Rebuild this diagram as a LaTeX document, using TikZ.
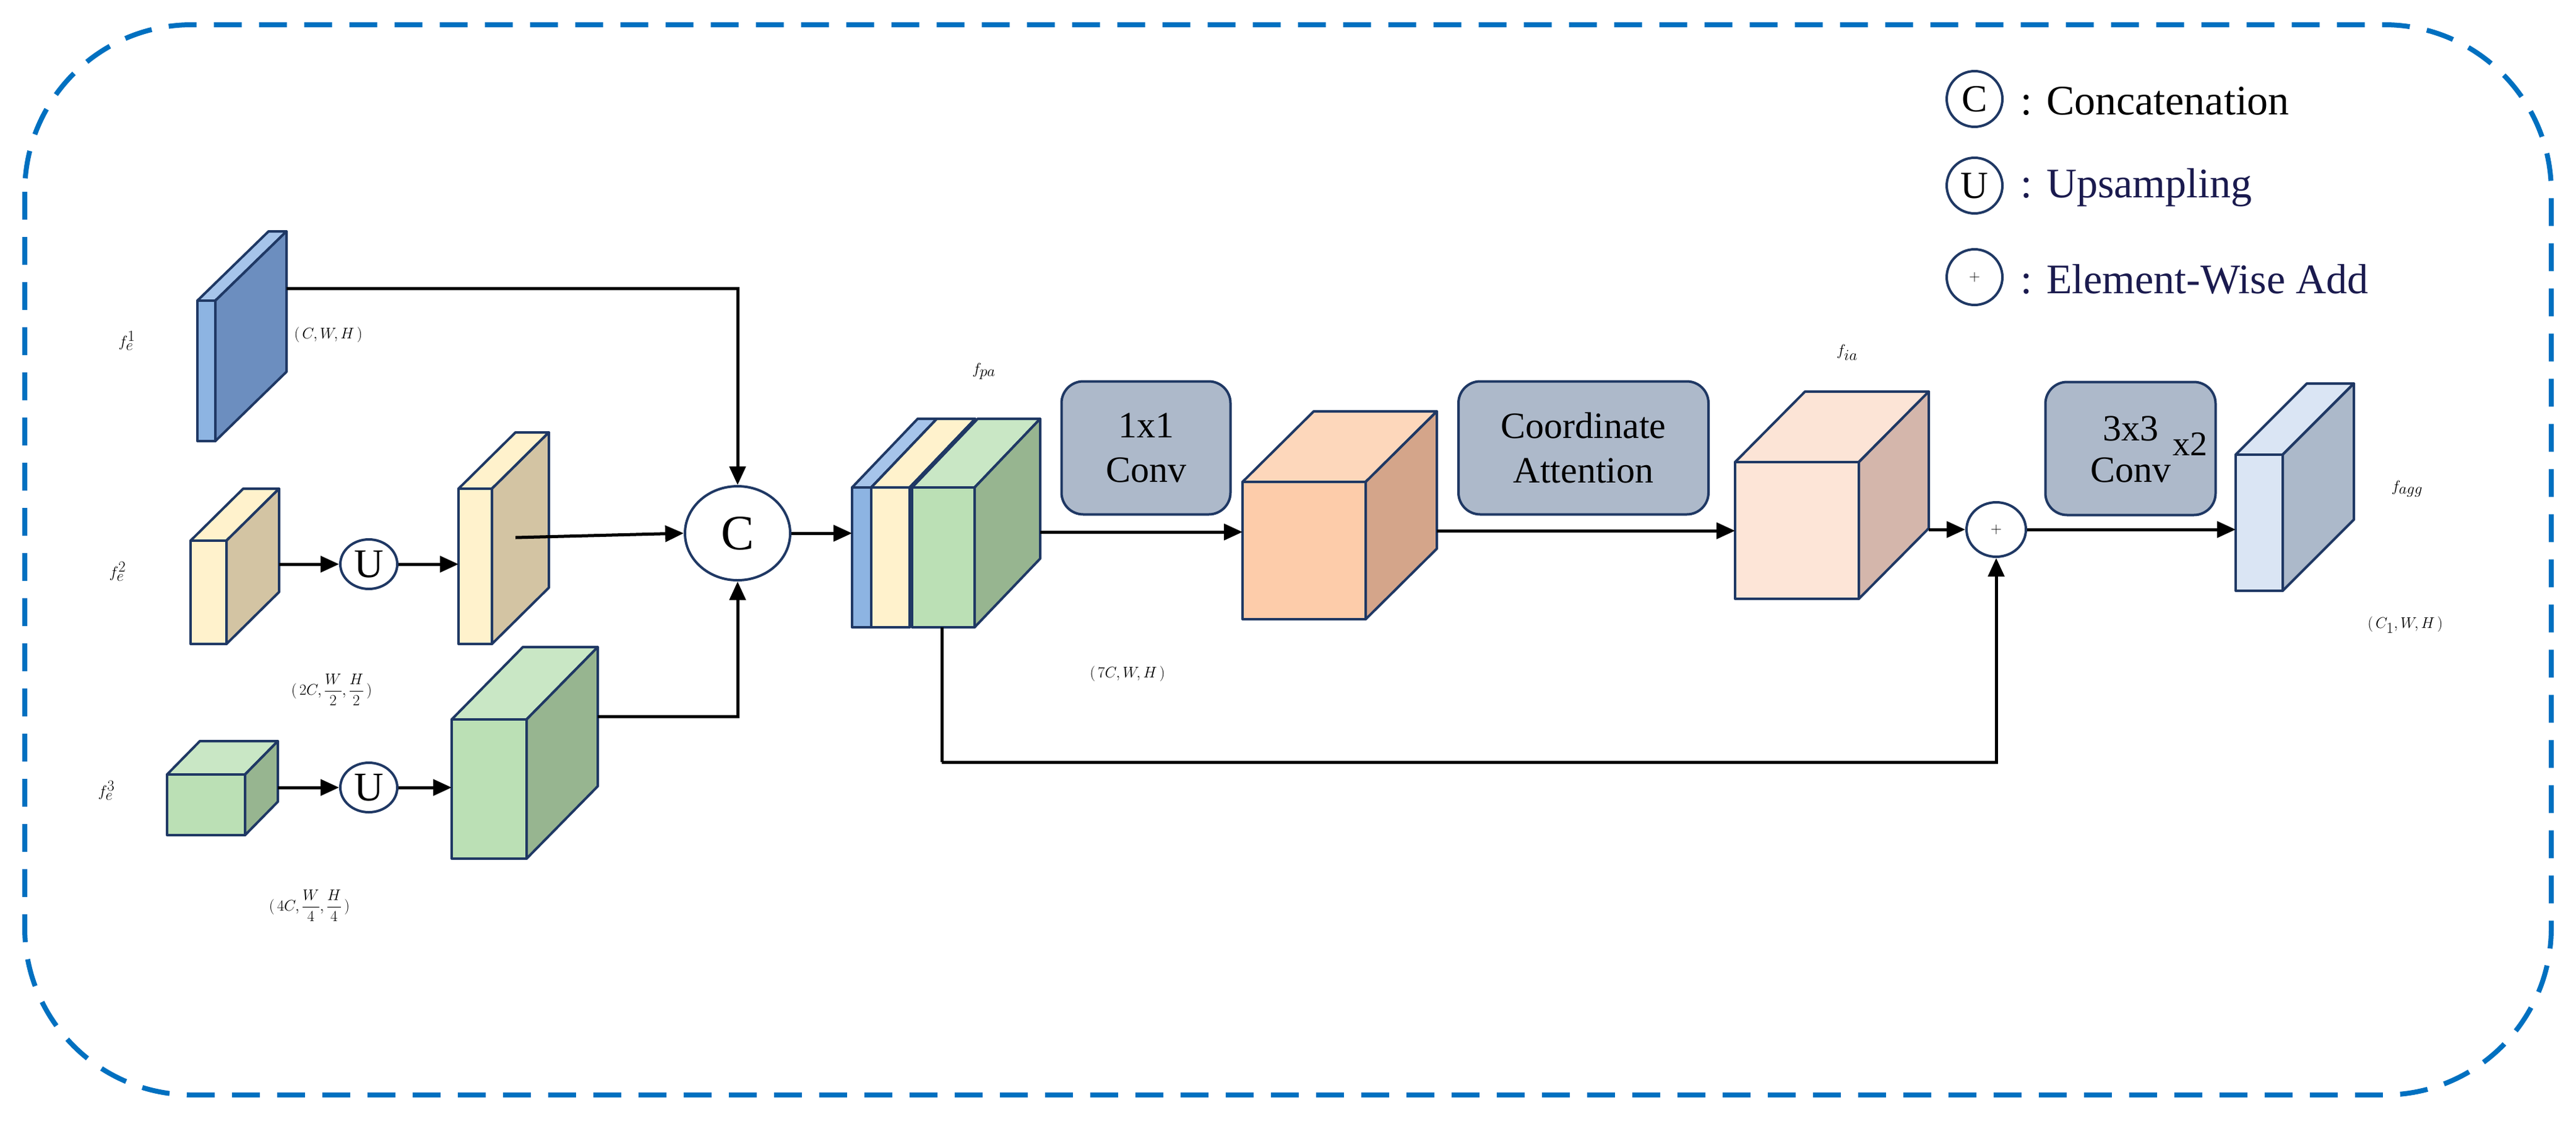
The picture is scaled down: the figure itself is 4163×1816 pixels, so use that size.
\documentclass[tikz,border=0pt]{standalone}
\usepackage{amsmath}
\usepackage{fontspec}
\setmainfont{Liberation Serif}
\usetikzlibrary{arrows.meta,shapes.geometric}
\definecolor{navy}{HTML}{1F3864}
\definecolor{dblue}{RGB}{0,112,192}
\definecolor{boxc}{HTML}{ADB9CA}
\definecolor{legtxt}{HTML}{1A1A4E}
\definecolor{bF}{HTML}{8DB4E2}\definecolor{bT}{HTML}{A6C4EA}\definecolor{bS}{HTML}{6C8EBF}
\definecolor{yF}{HTML}{FFF2CC}\definecolor{yS}{HTML}{D3C4A3}
\definecolor{gF}{HTML}{BBE0B5}\definecolor{gT}{HTML}{C9E7C5}\definecolor{gS}{HTML}{97B590}
\definecolor{oF}{HTML}{FDCCAA}\definecolor{oT}{HTML}{FDD7BB}\definecolor{oS}{HTML}{D4A58A}
\definecolor{pF}{HTML}{FDE5D7}\definecolor{pT}{HTML}{FCE4D6}\definecolor{pS}{HTML}{D4B6AB}
\definecolor{aF}{HTML}{DAE5F4}\definecolor{aS}{HTML}{ACB9CA}
\newcommand\mycube[9]{%
 \filldraw[edge,fill=#8] (#1,#2) -- (#1+#5,#2-#6) -- (#3+#5,#2-#6) -- (#3,#2) -- cycle;
 \filldraw[edge,fill=#9] (#3,#2) -- (#3+#5,#2-#6) -- (#3+#5,#4-#6) -- (#3,#4) -- cycle;
 \filldraw[edge,fill=#7] (#1,#2) rectangle (#3,#4);}
\begin{document}
\begin{tikzpicture}[x=1pt,y=-1pt,
 edge/.style={draw=navy,line width=4pt,line join=round},
 arr/.style={line width=5pt,-{Triangle[length=30pt,width=26pt]}},
 ln/.style={line width=5pt},
 op/.style={draw=navy,line width=4pt,fill=white,ellipse,inner sep=0pt},
 blk/.style={draw=navy,line width=4pt,fill=boxc,rounded corners=35pt,align=center,font=\fontsize{60}{72}\selectfont},
 big/.style={font=\fontsize{110}{120}\selectfont},
 dim/.style={font=\fontsize{64}{70}\selectfont},
 leg/.style={font=\fontsize{68}{80}\selectfont,anchor=west}]
\useasboundingbox (0,0) rectangle (4163,1816);
\draw[dblue,line width=8pt,dash pattern=on 45pt off 28pt,rounded corners=270pt] (40,40) rectangle (4123,1770);

% feature blocks
\mycube{319}{486}{348}{713}{115}{112}{bF}{bT}{bS}
\mycube{308}{874}{366}{1041}{85}{84}{yF}{yF}{yS}
\mycube{741}{790}{795}{1041}{92}{91}{yF}{yF}{yS}
\mycube{270}{1252}{396}{1350}{53}{54}{gF}{gT}{gS}
\mycube{730}{1163}{851}{1388}{115}{117}{gF}{gT}{gS}
\mycube{1377}{788}{1408}{1014}{106}{111}{bF}{bT}{bS}
\mycube{1408}{788}{1470}{1014}{106}{111}{yF}{yF}{yS}
\mycube{1474}{788}{1575}{1014}{106}{111}{gF}{gT}{gS}
\mycube{2008}{779}{2207}{1001}{115}{114}{oF}{oT}{oS}
\mycube{2804}{747}{3004}{968}{113}{114}{pF}{pT}{pS}
\mycube{3613}{735}{3689}{955}{115}{115}{aF}{aF}{aS}

% named anchor points
\coordinate (f1) at (463,466);
\coordinate (f2s) at (451,912);
\coordinate (f2b) at (833,869);
\coordinate (f2in) at (741,912);
\coordinate (f3s) at (449,1273);
\coordinate (f3b) at (966,1158);
\coordinate (f3in) at (730,1273);
\coordinate (fpain) at (1377,862);
\coordinate (fpaout) at (1681,860);
\coordinate (fpab) at (1522,1014);
\coordinate (orin) at (2008,860);
\coordinate (orout) at (2322,858);
\coordinate (iain) at (2804,858);
\coordinate (iaout) at (3117,856);
\coordinate (aggin) at (3613,856);
\coordinate (sk) at (1522,1232);

% operators
\node[op,minimum width=170pt,minimum height=152pt,font=\fontsize{80}{80}\selectfont] (C) at (1192,862) {C};
\node[op,minimum width=92pt,minimum height=80pt,font=\fontsize{66}{66}\selectfont] (U1) at (596,912) {U};
\node[op,minimum width=92pt,minimum height=80pt,font=\fontsize{66}{66}\selectfont] (U2) at (596,1273) {U};
\node[op,minimum width=96pt,minimum height=88pt,font=\fontsize{80}{80}\selectfont] (P) at (3226,856) {$+$};

% boxes
\node[blk,minimum width=273pt,minimum height=215pt] (b1) at (1852,724) {1x1\\Conv};
\node[blk,minimum width=404pt,minimum height=215pt] (b2) at (2559,724) {Coordinate\\Attention};
\node[blk,minimum width=275pt,minimum height=215pt] (b3) at (3443,725) {};
\node[font=\fontsize{60}{60}\selectfont] (t3a) at (3443,693) {3x3};
\node[font=\fontsize{60}{60}\selectfont] (t3b) at (3443,760) {Conv};
\node[font=\fontsize{56}{56}\selectfont] (t3c) at (3539,718) {x2};

% connectors
\draw[arr] (f1) -| (C.north);
\draw[arr] (f2s) -- (U1);
\draw[arr] (U1) -- (f2in);
\draw[arr] (f3s) -- (U2);
\draw[arr] (U2) -- (f3in);
\draw[arr] (f2b) -- (C.west);
\draw[arr] (f3b) -| (C.south);
\draw[arr] (C.east) -- (fpain);
\draw[arr] (fpaout) -- (orin);
\draw[arr] (orout) -- (iain);
\draw[arr] (iaout) -- (P.west);
\draw[arr] (P.east) -- (aggin);
\draw[ln] (fpab) -- (sk);
\draw[arr] (sk) -| (P.south);

% labels
\node[big] (l1) at (205,551) {$f_e^{1}$};
\node[big] (l2) at (190,924) {$f_e^{2}$};
\node[big] (l3) at (172,1278) {$f_e^{3}$};
\node[big] (lpa) at (1590,600) {$f_{pa}$};
\node[big] (lia) at (2985,570) {$f_{ia}$};
\node[big] (lagg) at (3890,790) {$f_{agg}$};
\node[dim,anchor=west] (d1) at (472,541) {$(\,C,W,H\,)$};
\node[dim] (d2) at (536,1115) {$(\,2C,\dfrac{W}{2},\dfrac{H}{2}\,)$};
\node[dim] (d3) at (500,1464) {$(\,4C,\dfrac{W}{4},\dfrac{H}{4}\,)$};
\node[dim] (d4) at (1822,1089) {$(\,7C,W,H\,)$};
\node[dim] (d5) at (3887,1010) {$(\,C_1,W,H\,)$};

% legend
\node[op,circle,minimum size=90pt,font=\fontsize{62}{62}\selectfont] (lc) at (3191,160) {C};
\node[op,circle,minimum size=90pt,font=\fontsize{62}{62}\selectfont] (lu) at (3191,300) {U};
\node[op,circle,minimum size=90pt,font=\fontsize{70}{70}\selectfont] (lp) at (3191,448) {$+$};
\node[leg] (tc) at (3262,163) {: Concatenation};
\node[leg,text=legtxt] (tu) at (3262,303) {: Upsampling};
\node[leg,text=legtxt] (tp) at (3262,451) {: Element-Wise Add};
\end{tikzpicture}
\end{document}
